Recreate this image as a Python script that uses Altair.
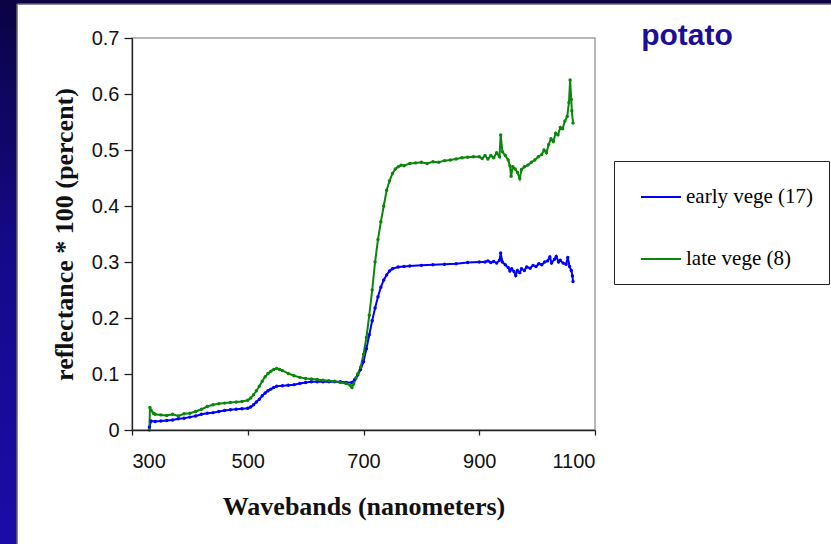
import altair as alt
import pandas as pd

# ---- data ----
early_nm = [330, 333, 340, 350, 360, 370, 380, 390, 400, 410, 420, 430, 440, 450, 460, 470, 480, 490, 500,
            505, 510, 515, 520, 525, 530, 535, 540, 545, 550, 560, 570, 580, 590, 600, 610, 620, 630, 640,
            650, 660, 670, 680, 685, 690, 695, 700, 705, 710, 715, 720, 725, 730, 735, 740, 745, 750, 760,
            770, 780, 800, 820, 840, 860, 880, 900, 910, 915, 920, 925, 930, 935, 937, 940, 945, 950, 953,
            956, 960, 963, 966, 970, 973, 978, 982, 988, 993, 998, 1003, 1008, 1013, 1018, 1022, 1025, 1030,
            1033, 1037, 1040, 1045, 1050, 1053, 1056, 1059, 1061, 1062]
early_val = [0.005, 0.016, 0.015, 0.016, 0.017, 0.018, 0.020, 0.021, 0.023, 0.025, 0.028, 0.030, 0.031, 0.033,
             0.035, 0.036, 0.037, 0.038, 0.039, 0.041, 0.045, 0.050, 0.055, 0.061, 0.066, 0.070, 0.073, 0.076,
             0.078, 0.079, 0.080, 0.081, 0.083, 0.085, 0.086, 0.086, 0.086, 0.086, 0.086, 0.086, 0.085, 0.085,
             0.090, 0.098, 0.108, 0.122, 0.145, 0.170, 0.195, 0.218, 0.238, 0.255, 0.268, 0.277, 0.284, 0.288,
             0.291, 0.292, 0.293, 0.294, 0.295, 0.296, 0.297, 0.299, 0.300, 0.300, 0.302, 0.299, 0.301, 0.298,
             0.303, 0.316, 0.300, 0.295, 0.290, 0.284, 0.288, 0.283, 0.276, 0.285, 0.281, 0.288, 0.285, 0.291,
             0.289, 0.294, 0.292, 0.297, 0.295, 0.300, 0.302, 0.309, 0.298, 0.305, 0.310, 0.300, 0.303, 0.298,
             0.296, 0.308, 0.292, 0.285, 0.275, 0.265]

late_nm = [330, 331, 333, 337, 340, 350, 360, 370, 380, 390, 400, 410, 420, 430, 440, 450, 460, 470, 480, 490,
           500, 505, 510, 515, 520, 525, 530, 535, 540, 545, 550, 555, 560, 570, 580, 590, 600, 610, 620, 630,
           640, 650, 660, 670, 677, 680, 683, 687, 690, 695, 700, 705, 710, 715, 720, 725, 730, 735, 740, 745,
           750, 755, 760, 765, 770, 780, 790, 800, 810, 820, 830, 840, 850, 860, 870, 880, 890, 900, 905, 910,
           915, 920, 925, 930, 935, 937, 940, 945, 950, 953, 955, 958, 962, 966, 970, 973, 978, 984, 990, 996,
           1002, 1008, 1012, 1016, 1020, 1024, 1028, 1032, 1036, 1040, 1044, 1048, 1052, 1055, 1057, 1059,
           1060, 1062]
late_val = [0.000, 0.040, 0.035, 0.030, 0.028, 0.027, 0.026, 0.028, 0.025, 0.029, 0.030, 0.033, 0.037, 0.042,
            0.045, 0.047, 0.048, 0.049, 0.050, 0.051, 0.053, 0.057, 0.063, 0.070, 0.078, 0.087, 0.095, 0.101,
            0.105, 0.108, 0.110, 0.108, 0.106, 0.101, 0.097, 0.094, 0.092, 0.091, 0.090, 0.089, 0.088, 0.087,
            0.085, 0.083, 0.080, 0.076, 0.082, 0.093, 0.100, 0.112, 0.135, 0.165, 0.205, 0.250, 0.300, 0.340,
            0.372, 0.400, 0.428, 0.445, 0.458, 0.466, 0.470, 0.473, 0.472, 0.476, 0.477, 0.478, 0.476, 0.479,
            0.478, 0.481, 0.482, 0.484, 0.486, 0.487, 0.488, 0.488, 0.485, 0.490, 0.484, 0.490, 0.486, 0.495,
            0.488, 0.527, 0.497, 0.490, 0.482, 0.472, 0.453, 0.470, 0.466, 0.460, 0.449, 0.465, 0.470, 0.473,
            0.478, 0.482, 0.488, 0.492, 0.500, 0.495, 0.510, 0.520, 0.515, 0.530, 0.527, 0.540, 0.538, 0.552,
            0.560, 0.585, 0.625, 0.590, 0.570, 0.548]

series_names = ["early vege (17)", "late vege (8)"]
series_colors = ["#0000ff", "#0a860a"]
x_ticks = [300, 500, 700, 900, 1100]
y_ticks = [0, 0.1, 0.2, 0.3, 0.4, 0.5, 0.6, 0.7]

df = pd.concat([
    pd.DataFrame({"nm": early_nm, "val": early_val, "series": series_names[0]}),
    pd.DataFrame({"nm": late_nm, "val": late_val, "series": series_names[1]}),
])

W, H = 463, 392
PL, PT = 132, 38
CW, CH = 831, 544

lines = alt.Chart(df).mark_line(
    strokeWidth=2,
    point=alt.OverlayMarkDef(filled=True, size=12),
).encode(
    x=alt.X("nm:Q", scale=alt.Scale(domain=[300, 1100], nice=False, zero=False),
            axis=alt.Axis(values=x_ticks, format="d", title="Wavebands (nanometers)", grid=False,
                          tickSize=5, labelPadding=16, titlePadding=22, zindex=1)),
    y=alt.Y("val:Q", scale=alt.Scale(domain=[0, 0.7], nice=False),
            axis=alt.Axis(values=y_ticks, title="reflectance * 100 (percent)", grid=False,
                          labelExpr="datum.value == 0 ? '0' : format(datum.value, '.1f')",
                          tickSize=8, labelPadding=5, titlePadding=14, zindex=1)),
    color=alt.Color("series:N", scale=alt.Scale(domain=series_names, range=series_colors),
                    legend=alt.Legend(title=None, orient="none", legendX=482, legendY=123,
                                      strokeColor="#222222", fillColor="white", padding=15,
                                      rowPadding=31, symbolType="stroke", symbolSize=1600,
                                      symbolOffset=11, symbolStrokeWidth=1.8,
                                      labelFont="Liberation Serif",
                                      labelFontSize=21, labelColor="black", labelOffset=4,
                                      zindex=1)),
)

deco = alt.Chart(alt.Data(values=[{}]))
grad = alt.LinearGradient(
    gradient="linear", x1=0, x2=0, y1=0, y2=1,
    stops=[alt.GradientStop(offset=0, color="#0b0343"),
           alt.GradientStop(offset=0.2, color="#0f0662"),
           alt.GradientStop(offset=0.5, color="#150a8c"),
           alt.GradientStop(offset=1, color="#1b0ca6")])
left_strip = deco.mark_rect(fill=grad).encode(
    x=alt.value(-PL), x2=alt.value(-PL + 17), y=alt.value(-PT), y2=alt.value(CH - PT))
top_strip = deco.mark_rect(color="#0b0343").encode(
    x=alt.value(-PL), x2=alt.value(CW - PL), y=alt.value(-PT), y2=alt.value(-PT + 4))
edge_left = deco.mark_rule(color="#666666", strokeWidth=1.5).encode(
    x=alt.value(-PL + 17), y=alt.value(-PT + 4), y2=alt.value(CH - PT))
edge_top = deco.mark_rule(color="#666666", strokeWidth=1.5).encode(
    x=alt.value(-PL + 17), x2=alt.value(CW - PL), y=alt.value(-PT + 4))
title = deco.mark_text(text="potato", font="Liberation Sans", fontSize=30, fontWeight="bold",
                       color="#1c0e96", align="center", baseline="alphabetic").encode(
    x=alt.value(687 - PL), y=alt.value(45 - PT))

chart = alt.layer(left_strip, top_strip, edge_left, edge_top, lines, title).properties(
    width=W, height=H,
    autosize=alt.AutoSizeParams(type="none"),
    padding={"left": PL, "top": PT, "right": CW - PL - W, "bottom": CH - PT - H},
).configure(
    background="white",
).configure_view(
    stroke="#a0a0a0", strokeWidth=1.5,
).configure_axis(
    domainColor="#222222", domainWidth=1.3, tickColor="#222222", tickWidth=1.3,
    labelFont="Liberation Sans", labelFontSize=20, labelColor="#111111",
    titleFont="Liberation Serif", titleFontSize=26, titleFontWeight="bold", titleColor="#111111",
)

chart.save("out.html", embed_options={"renderer": "svg", "actions": False})
